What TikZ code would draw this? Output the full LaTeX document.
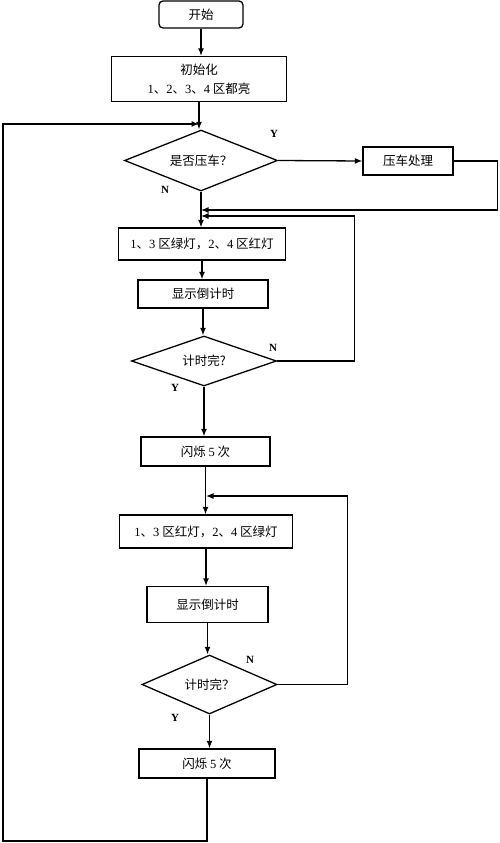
\documentclass[tikz,border=0pt]{standalone}
\usepackage{fontspec}
\setmainfont{Noto Sans CJK SC}
\newfontfamily\latin{Liberation Serif}
\usetikzlibrary{shapes, arrows, arrows.meta, positioning, calc}

\begin{document}
\begin{tikzpicture}[x=1pt, y=-1pt, line width=1.3pt, >={Latex[length=7.5pt,width=6pt]},
    font=\fontsize{12.5}{15}\selectfont,
    procbox/.style={draw, rectangle, inner sep=0pt, align=center},
    startbox/.style={procbox, rounded corners=4pt},
    decbox/.style={draw, diamond, aspect=3, inner sep=0pt},
    yn/.style={font=\latin\bfseries\fontsize{11}{13}\selectfont}]
    \useasboundingbox (0,0) rectangle (500,843);

    % start and init
    \node (start) at (201,14.5) [startbox, minimum width=84, minimum height=27] {开始};
    \node (init) at (199,79) [procbox, minimum width=175, minimum height=45,
        font=\fontsize{12.5}{19}\selectfont] {初始化\\{\latin 1}、{\latin 2}、{\latin 3}、{\latin 4} 区都亮};

    % first phase
    \node (press) at (201,160.5) [decbox, minimum width=153, minimum height=61] {是否压车？};
    \node (treat) at (408,161) [procbox, minimum width=90, minimum height=28] {压车处理};
    \node (green) at (202,244) [procbox, minimum width=167, minimum height=32]
        {{\latin 1}、{\latin 3} 区绿灯，{\latin 2}、{\latin 4} 区红灯};
    \node (count1) at (203,294) [procbox, minimum width=130, minimum height=28] {显示倒计时};
    \node (done1) at (204,361) [decbox, minimum width=145, minimum height=50] {计时完?};
    \node (flash1) at (205.5,451.5) [procbox, minimum width=129, minimum height=29] {闪烁 {\latin 5} 次};

    % second phase
    \node (red) at (206,531.5) [procbox, minimum width=173, minimum height=33]
        {{\latin 1}、{\latin 3} 区红灯，{\latin 2}、{\latin 4} 区绿灯};
    \node (count2) at (207.5,604.5) [procbox, minimum width=121, minimum height=36] {显示倒计时};
    \node (done2) at (209.5,684.5) [decbox, minimum width=135, minimum height=59] {计时完？};
    \node (flash2) at (207,763.5) [procbox, minimum width=136, minimum height=29] {闪烁 {\latin 5} 次};

    % junctions
    \coordinate (j1) at (199,124);
    \coordinate (j2) at (201,210);
    \coordinate (j3) at (201,216);
    \coordinate (j4) at (206,496);
    \coordinate (bl) at (3,841);

    % main flow
    \draw[->] (start.south) -- (start.south |- init.north);
    \draw[->] (init.south) -- (init.south |- press.north);
    \draw[->] (press.east) -- (treat.west);
    \draw[->] (press.south) -- (press.south |- green.north);
    \draw[->] (green.south) -- (green.south |- count1.north);
    \draw[->] (count1.south) -- (count1.south |- done1.north);
    \draw[->] (done1.south) -- (done1.south |- flash1.north);
    \draw[->] (flash1.south) -- (flash1.south |- red.north);
    \draw[->] (red.south) -- (red.south |- count2.north);
    \draw[->] (count2.south) -- (count2.south |- done2.north);
    \draw[->] (done2.south) -- (done2.south |- flash2.north);

    % loops back
    \draw[->] (treat.east) -- ++(44,0) |- (j2);
    \draw[->] (done1.east) -- ++(77,0) |- (j3);
    \draw[->] (done2.east) -- ++(70,0) |- (j4);
    \draw[->] (flash2.south) |- (bl) -- (bl |- j1) -- (j1);

    % labels
    \node (y1) at (274,134) [yn] {Y};
    \node (n1) at (165,190) [yn] {N};
    \node (n2) at (273,348) [yn] {N};
    \node (y2) at (175,388) [yn] {Y};
    \node (n3) at (250,660) [yn] {N};
    \node (y3) at (175,718) [yn] {Y};
\end{tikzpicture}
\end{document}
